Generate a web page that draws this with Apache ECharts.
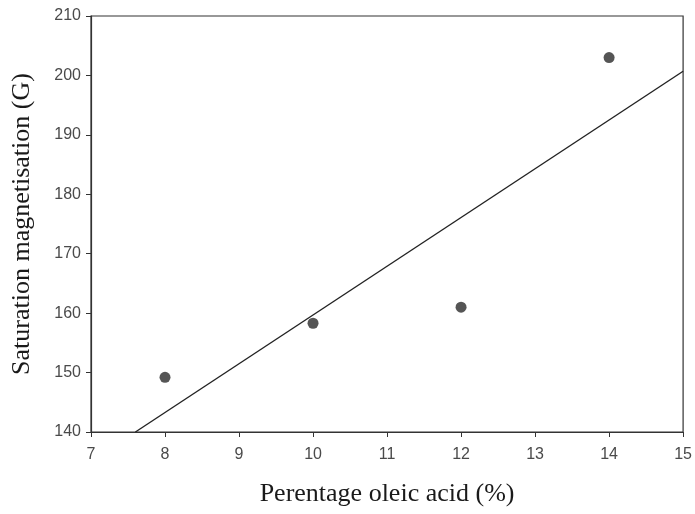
<!DOCTYPE html>
<html><head><meta charset="utf-8">
<script src="https://cdn.jsdelivr.net/npm/echarts@6/dist/echarts.min.js"></script>
<style>html,body{margin:0;padding:0;background:#fff}#c{width:695px;height:514px}</style>
</head><body><div id="c"></div>
<script>
const oleic = [8, 10, 12, 14];
const magnetisation = [149.2, 158.3, 161.0, 203.0];
const trendX = [7.6, 15];
const trendY = [140, 200.7];
const xTicks = [7, 8, 9, 10, 11, 12, 13, 14, 15];
const yTicks = [140, 150, 160, 170, 180, 190, 200, 210];

const chart = echarts.init(document.getElementById('c'), null, {renderer: 'canvas'});
const axisCommon = {
  axisLine: {show: true, lineStyle: {color: '#333', width: 1.2}},
  axisTick: {show: true, inside: false, length: 5, lineStyle: {color: '#333'}},
  splitLine: {show: false},
  axisLabel: {color: '#4a4a4a', fontFamily: 'Liberation Sans', fontSize: 16},
  nameTextStyle: {color: '#1a1a1a', fontFamily: 'Liberation Serif', fontSize: 26},
  nameLocation: 'middle'
};
chart.setOption({
  backgroundColor: '#fff',
  animation: false,
  grid: {left: 91, right: 8, top: 16, bottom: 82, show: true, borderColor: '#333', borderWidth: 1.2},
  xAxis: Object.assign({}, axisCommon, {
    type: 'value', min: xTicks[0], max: xTicks[xTicks.length - 1], interval: 1,
    name: 'Perentage oleic acid (%)', nameGap: 49,
    axisLabel: Object.assign({}, axisCommon.axisLabel, {margin: 15})
  }),
  yAxis: Object.assign({}, axisCommon, {
    type: 'value', min: yTicks[0], max: yTicks[yTicks.length - 1], interval: 10,
    name: 'Saturation magnetisation (G)', nameGap: 56,
    axisLabel: Object.assign({}, axisCommon.axisLabel, {margin: 10})
  }),
  series: [
    {type: 'line', data: trendX.map((x, i) => [x, trendY[i]]), showSymbol: false,
     lineStyle: {color: '#222', width: 1.4}, silent: true},
    {type: 'scatter', data: oleic.map((x, i) => [x, magnetisation[i]]), symbolSize: 11,
     itemStyle: {color: '#2a2a2a'}}
  ]
});
</script></body></html>
